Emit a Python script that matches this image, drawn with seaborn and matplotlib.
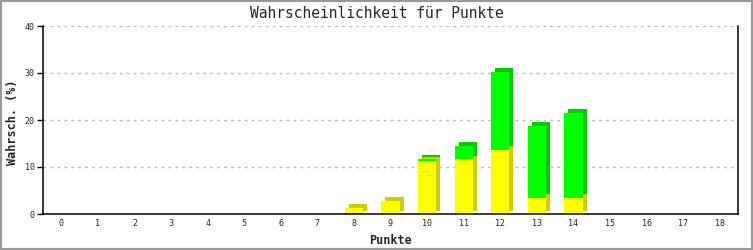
import matplotlib
matplotlib.use("Agg")
import matplotlib.pyplot as plt
import matplotlib.transforms as mtransforms
import matplotlib.patches as mpatches
import seaborn as sns
import pandas as pd

# ---- data ----
categories = [str(i) for i in range(19)]
red_vals = [0, 0, 0, 0, 0, 0, 0, 0, 0.2, 0, 0, 0, 0, 0, 0, 0, 0, 0, 0]
yellow_vals = [0, 0, 0, 0, 0, 0, 0, 0, 1.15, 2.85, 11.3, 11.6, 13.7, 3.5, 3.5, 0, 0, 0, 0]
green_vals = [0, 0, 0, 0, 0, 0, 0, 0, 0, 0, 0.5, 2.9, 16.6, 15.3, 18.05, 0, 0, 0, 0]
y_ticks = [0, 10, 20, 30, 40]
title = "Wahrscheinlichkeit für Punkte"
x_label = "Punkte"
y_label = "Wahrsch. (%)"

df = pd.DataFrame({
    "cat": categories,
    "red": red_vals,
    "yellow": yellow_vals,
    "green": green_vals,
})
df["ry"] = df["red"] + df["yellow"]
df["total"] = df["ry"] + df["green"]

sns.set_style("white")
plt.rcParams["font.family"] = ["DejaVu Sans Mono", "DejaVu Sans"]

fig = plt.figure(figsize=(7.53, 2.5), dpi=100)
ax = fig.add_axes([43 / 753, 36 / 250, 695 / 753, 188 / 250])

W = 0.5
shift = mtransforms.ScaledTranslation(4 / 100, 3.5 / 100, fig.dpi_scale_trans)

def layer(col, color, shadow):
    n0 = len(ax.patches)
    sns.barplot(data=df, x="cat", y=col, order=categories, color=color,
                width=W, saturation=1, ax=ax, linewidth=0, errorbar=None)
    for p in ax.patches[n0:]:
        if shadow:
            p.set_transform(ax.transData + shift)
            p.set_zorder(1)
        else:
            p.set_zorder(2)

# shadows (3D side/top faces)
layer("total", "#00CC00", True)
layer("ry", "#CCCC00", True)
# front faces
layer("total", "#00FF00", False)
layer("ry", "#FFFF00", False)
layer("red", "#FF0000", False)

ax.set_xlim(-0.5, 18.5)
ax.set_ylim(0, 40)
ax.set_yticks(y_ticks)
ax.set_yticklabels([str(t) for t in y_ticks])
ax.set_xlabel("")
ax.set_ylabel("")

for t in y_ticks[1:]:
    ax.axhline(t, color="#BBBBBB", lw=1, linestyle=(0, (2, 3)), zorder=0)

for s in ["left", "right", "bottom"]:
    ax.spines[s].set_visible(True)
    ax.spines[s].set_color("black")
    ax.spines[s].set_linewidth(1.1)
    ax.spines[s].set_zorder(5)
ax.spines["top"].set_visible(False)

ax.tick_params(axis="y", direction="out", length=4, width=1, color="black",
               labelsize=6, pad=2, left=True)
ax.tick_params(axis="x", length=0, labelsize=6, pad=3.5)

fig.text(0.5, 1 - 13 / 250, title, ha="center", va="center", fontsize=10.5)
fig.text(390 / 753, 1 - 240 / 250, x_label, ha="center", va="center",
         fontsize=8.5, fontweight="bold")
fig.text(13 / 753, 1 - 122 / 250, y_label, ha="center", va="center",
         rotation=90, fontsize=8.5, fontweight="bold")

fig.add_artist(mpatches.Rectangle((0, 0), 1, 1, transform=fig.transFigure,
                                  fill=False, edgecolor="#999999", lw=3))

fig.savefig("out.png", dpi=100)
